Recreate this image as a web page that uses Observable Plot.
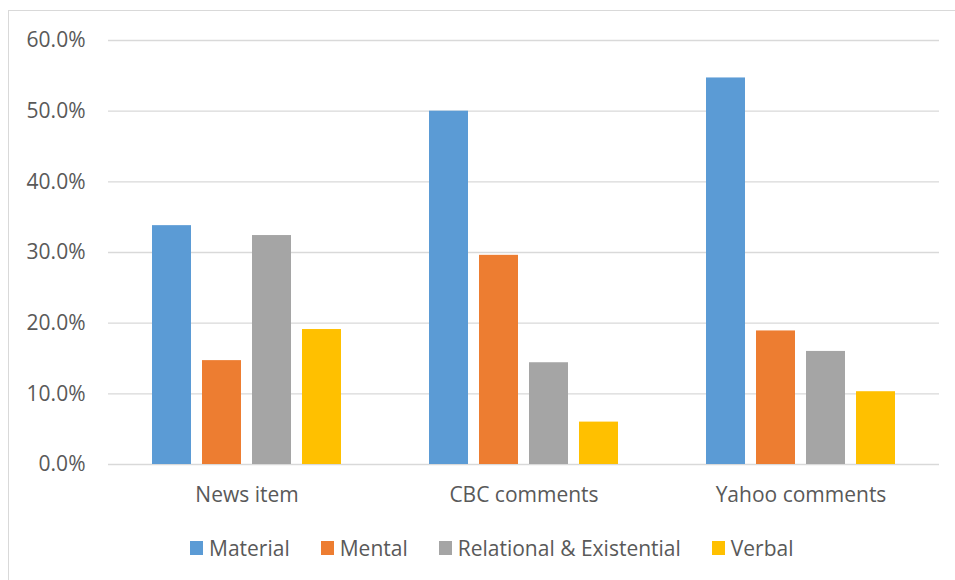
<!DOCTYPE html>
<html>
<head>
<meta charset="utf-8">
<script src="https://cdn.jsdelivr.net/npm/d3@7"></script>
<script src="https://cdn.jsdelivr.net/npm/@observablehq/plot@0.6"></script>
<style>
  html, body { margin: 0; padding: 0; background: #fff; }
  #wrap { position: relative; width: 955px; height: 580px; overflow: hidden; font-family: "Open Sans", "Noto Sans", sans-serif; }
  #frame { position: absolute; left: 8px; top: 10px; width: 960px; height: 600px; border-left: 1.3px solid #d9d9d9; border-top: 1.3px solid #d9d9d9; box-sizing: border-box; }
  #chart { position: absolute; left: 0; top: 0; }
  #legend { position: absolute; left: 190px; top: 538px; height: 20px; display: flex; align-items: center; font-size: 21px; color: #595959; line-height: 20px; }
  .item { display: flex; align-items: center; margin-right: 31px; }
  .sw { width: 13px; height: 14px; margin-right: 6px; }
</style>
</head>
<body>
<div id="wrap">
  <div id="frame"></div>
  <div id="chart"></div>
  <div id="legend"></div>
</div>
<script>
const categories = ["News item", "CBC comments", "Yahoo comments"];
const series = ["Material", "Mental", "Relational & Existential", "Verbal"];
const colors = ["#5b9bd5", "#ed7d31", "#a5a5a5", "#ffc000"];
const material   = [33.8, 50.0, 54.7];
const mental     = [14.7, 29.6, 18.9];
const relational = [32.4, 14.4, 16.0];
const verbal     = [19.1, 6.0, 10.3];
const yTicks = [0, 10, 20, 30, 40, 50, 60];

const seriesValues = [material, mental, relational, verbal];
const data = [];
categories.forEach((c, ci) => {
  series.forEach((s, si) => {
    data.push({category: c, series: s, value: seriesValues[si][ci]});
  });
});

const chart = Plot.plot({
  width: 955,
  height: 520,
  marginLeft: 107,
  marginRight: 16,
  marginTop: 40,
  marginBottom: 56,
  style: {fontFamily: '"Open Sans", "Noto Sans", sans-serif', color: "#595959", background: "transparent"},
  fx: {domain: categories, padding: 0, label: null},
  x: {domain: series, paddingInner: 0.22, paddingOuter: 0.87, axis: null},
  y: {domain: [0, 60], label: null},
  color: {domain: series, range: colors},
  marks: [
    Plot.gridY(yTicks, {stroke: "#d9d9d9", strokeOpacity: 1, strokeWidth: 1.3}),
    Plot.barY(data, {fx: "category", x: "series", y: "value", fill: "series"}),
    Plot.axisY(yTicks, {tickSize: 0, tickPadding: 23, tickFormat: d => d.toFixed(1) + "%", fontSize: 21, fill: "#595959", label: null}),
    Plot.axisFx({anchor: "bottom", tickSize: 0, tickPadding: 23, fontSize: 21, fill: "#595959", label: null})
  ]
});
document.getElementById("chart").appendChild(chart);

const legend = document.getElementById("legend");
series.forEach((s, i) => {
  const item = document.createElement("div");
  item.className = "item";
  const sw = document.createElement("div");
  sw.className = "sw";
  sw.style.background = colors[i];
  const t = document.createElement("span");
  t.textContent = s;
  item.appendChild(sw);
  item.appendChild(t);
  legend.appendChild(item);
});
</script>
</body>
</html>
